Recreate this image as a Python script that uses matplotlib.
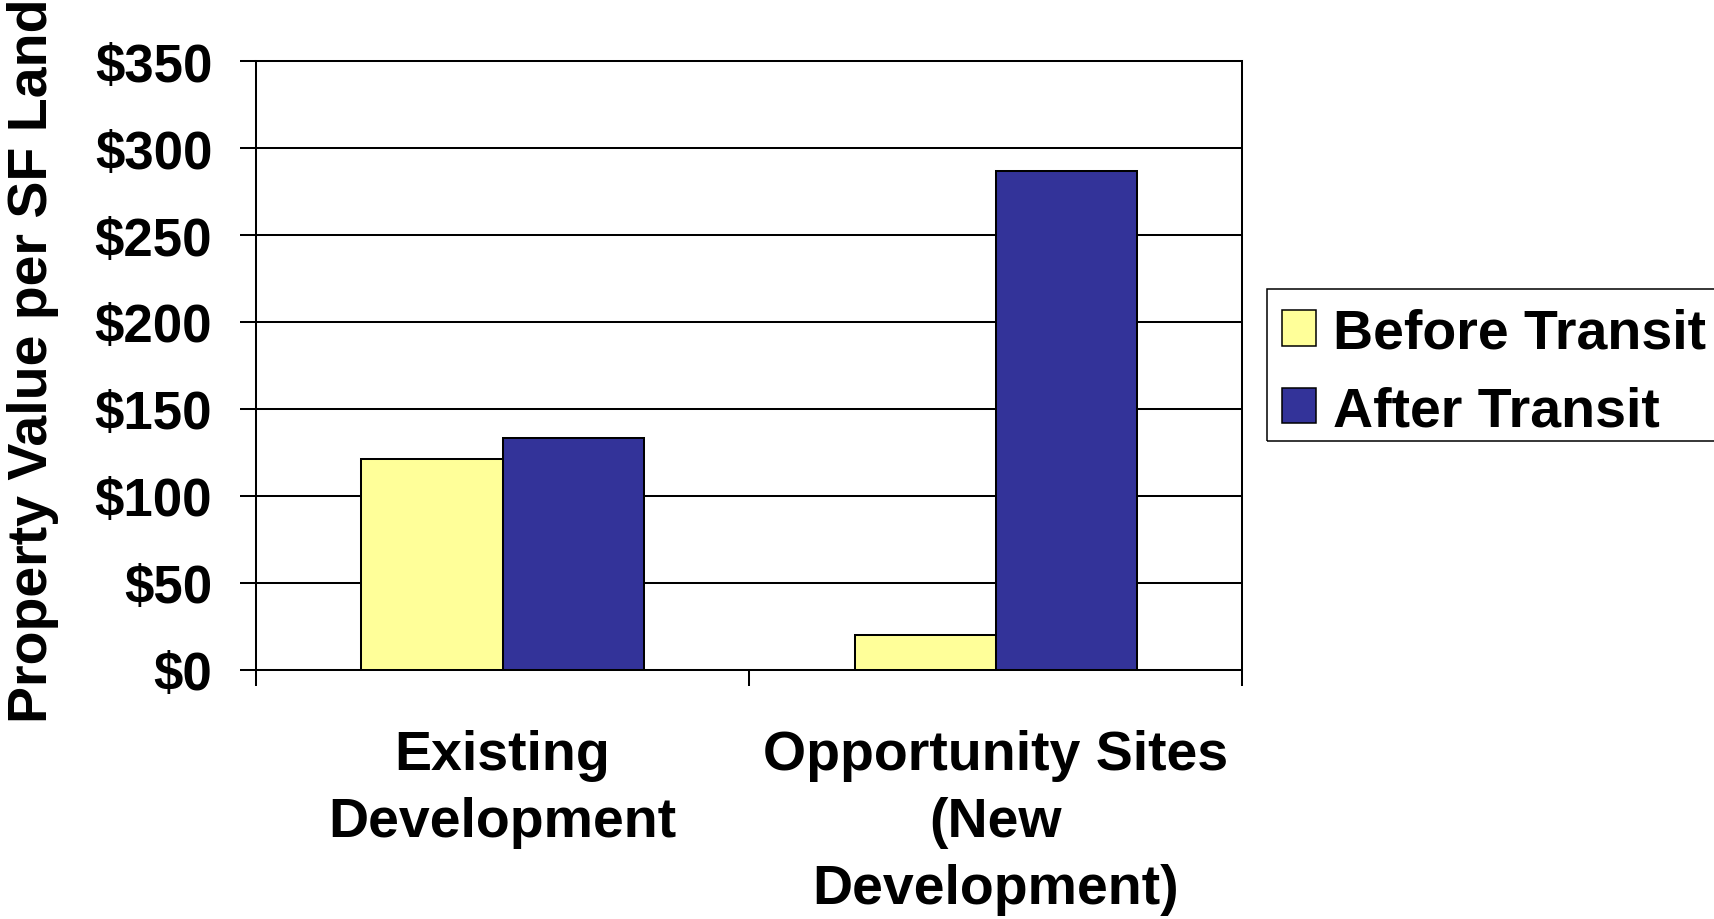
import matplotlib
matplotlib.use("Agg")
import matplotlib.pyplot as plt
from matplotlib.patches import Rectangle
import numpy as np

# Property value per square foot of land, before and after transit
categories = ["Existing\nDevelopment", "Opportunity Sites\n(New\nDevelopment)"]
series_names = ["Before Transit", "After Transit"]
before_transit = [121, 20]
after_transit = [133, 287]
y_ticks = [0, 50, 100, 150, 200, 250, 300, 350]
y_tick_labels = ["$0", "$50", "$100", "$150", "$200", "$250", "$300", "$350"]
y_label = "Property Value per SF Land"

colors = ["#FFFF99", "#333399"]

plt.rcParams["font.family"] = ["Liberation Sans", "DejaVu Sans"]
plt.rcParams["font.weight"] = "bold"

DPI = 100
W, H = 1715, 920
fig = plt.figure(figsize=(W / DPI, H / DPI), dpi=DPI)
ax = fig.add_axes([256 / W, 1 - 670.5 / H, (1242.5 - 256) / W, (670.5 - 62.3) / H])

lw = 1.45
x = np.arange(len(categories))
w = 0.2865

ax.set_axisbelow(True)
ax.yaxis.grid(True, color="black", linewidth=lw)

ax.bar(x - w / 2, before_transit, width=w, color=colors[0], edgecolor="black",
       linewidth=lw, label=series_names[0], zorder=3)
ax.bar(x + w / 2, after_transit, width=w, color=colors[1], edgecolor="black",
       linewidth=lw, label=series_names[1], zorder=3)

ax.set_xlim(-0.5, len(categories) - 0.5)
ax.set_ylim(0, 350)

ax.set_yticks(y_ticks)
ax.set_yticklabels(y_tick_labels, fontsize=38, fontweight="bold")
ax.tick_params(axis="y", direction="out", length=11.5, width=lw, pad=20)

ax.set_xticks(x)
ax.set_xticklabels(categories, fontsize=40, fontweight="bold", linespacing=1.38)
ax.tick_params(axis="x", which="major", length=0, pad=42.5)
ax.set_xticks(np.arange(len(categories) + 1) - 0.5, minor=True)
ax.tick_params(axis="x", which="minor", direction="out", length=11.5, width=lw)

for s in ax.spines.values():
    s.set_linewidth(lw)
    s.set_color("black")

fig.text(33 / W, (H - 723) / H, y_label, rotation=90, ha="center",
         va="bottom", fontsize=40, fontweight="bold")

# Legend entries, with a plain rectangular frame running off the right edge
leg = fig.legend(loc="upper left", bbox_to_anchor=(1267 / W, 1 - 293.5 / H),
                 bbox_transform=fig.transFigure, borderaxespad=0,
                 prop={"weight": "bold", "size": 40},
                 handlelength=0.61, handleheight=0.6, handletextpad=0.3,
                 labelspacing=0.46, borderpad=0.27, frameon=False)
for p in leg.get_patches():
    p.set_linewidth(1.1)

fig.patches.append(Rectangle((1267 / W, 1 - 442 / H), (1780 - 1267) / W, (442 - 290) / H,
                             transform=fig.transFigure, fill=False,
                             edgecolor="black", linewidth=1.1))

fig.savefig("out.png", dpi=DPI, facecolor="white")
